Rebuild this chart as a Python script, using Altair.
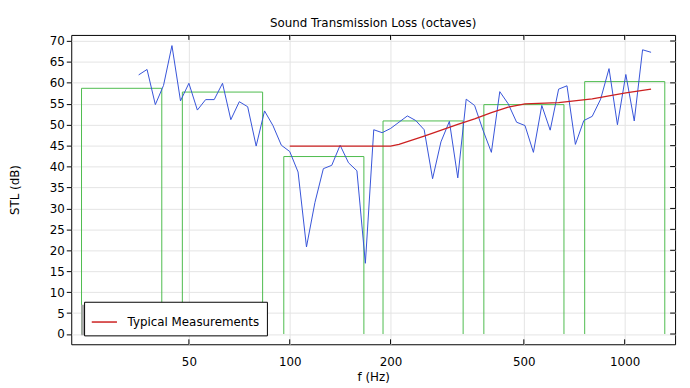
import altair as alt
import pandas as pd

FONT = "DejaVu Sans"

# 1/12-octave narrowband STL (blue)
freq = [35.4, 37.5, 39.7, 42.0, 44.5, 47.2, 50.0, 53.0, 56.1, 59.5,
        63.0, 66.7, 70.7, 74.9, 79.4, 84.1, 89.1, 94.4, 100.0, 105.9,
        112.2, 118.9, 126.0, 133.5, 141.4, 149.8, 158.7, 168.2, 178.2, 188.8,
        200.0, 211.9, 224.5, 237.8, 252.0, 267.0, 282.8, 299.7, 317.5, 336.4,
        356.4, 377.6, 400.0, 423.8, 449.0, 475.7, 504.0, 534.0, 565.7, 599.3,
        635.0, 672.7, 712.7, 755.1, 800.0, 847.6, 898.0, 951.4, 1008.0, 1068.0,
        1131.0, 1199.0]
stl = [61.9, 63.2, 54.8, 59.4, 68.9, 55.7, 59.9, 53.5, 56.0, 56.0,
       59.9, 51.2, 55.5, 54.3, 44.9, 53.3, 49.8, 45.1, 43.6, 38.7,
       20.8, 31.4, 39.5, 40.3, 45.1, 40.9, 39.0, 16.9, 48.8, 48.1,
       49.1, 50.6, 52.1, 51.0, 48.8, 37.1, 45.9, 50.8, 37.3, 56.1,
       54.6, 48.7, 43.4, 57.9, 55.0, 50.6, 49.8, 43.4, 54.6, 48.7,
       58.5, 59.3, 45.3, 51.0, 52.0, 56.1, 63.4, 50.0, 62.0, 50.9,
       67.9, 67.3]

# Typical measurements (red)
typ_freq = [100.0, 125.0, 158.7, 200.0, 211.9, 252.0, 317.5, 356.4, 400.0,
            449.0, 504.0, 635.0, 800.0, 1008.0, 1199.0]
typ_stl = [44.9, 44.9, 44.9, 44.9, 45.3, 47.3, 50.1, 51.4, 52.9,
           54.2, 55.0, 55.3, 56.2, 57.6, 58.5]

# Octave bands (green)
band_lo = [23.9, 47.8, 96.0, 189.9, 379.8, 759.6]
band_hi = [41.5, 83.0, 166.5, 329.4, 658.8, 1317.6]
band_stl = [58.7, 57.8, 42.4, 50.9, 54.8, 60.3]

x_ticks = [50, 100, 200, 500, 1000]
y_ticks = [0, 5, 10, 15, 20, 25, 30, 35, 40, 45, 50, 55, 60, 65, 70]

W, H = 611, 313

narrow = pd.DataFrame({"f": freq, "stl": stl})
typ = pd.DataFrame({"f": typ_freq, "stl": typ_stl,
                    "series": ["Typical Measurements"] * len(typ_freq)})
bands = pd.DataFrame({"f": band_lo, "hi": band_hi, "stl": band_stl})
xt = pd.DataFrame({"f": x_ticks})
yt = pd.DataFrame({"stl": y_ticks})

xscale = alt.Scale(type="log", domain=[22.27, 1414.2], nice=False)
yscale = alt.Scale(domain=[-2.45, 71.45], nice=False, zero=False)

xaxis = alt.Axis(values=x_ticks, format="d", ticks=False, tickSize=0,
                 labelPadding=12, domain=False, grid=True, gridColor="#e4e4e4",
                 labelFont=FONT, labelFontSize=12, labelColor="black",
                 titleFont=FONT, titleFontSize=12, titleFontWeight="normal",
                 titleColor="black", titleY=33, titleBaseline="middle")
yaxis = alt.Axis(values=y_ticks, tickSize=5, tickColor="black", labelPadding=2,
                 domain=False, grid=True, gridColor="#e4e4e4",
                 labelFont=FONT, labelFontSize=12, labelColor="black",
                 titleFont=FONT, titleFontSize=12, titleFontWeight="normal",
                 titleColor="black", titleX=-57, titleY=H / 2,
                 titleBaseline="middle")


def X(fld):
    return alt.X(f"{fld}:Q", scale=xscale, axis=xaxis, title="f (Hz)")


def Y(fld):
    return alt.Y(f"{fld}:Q", scale=yscale, axis=yaxis, title="STL (dB)")


GREEN = "#4cbb4c"

green_left = alt.Chart(bands).mark_rule(color=GREEN, strokeWidth=1).encode(
    x=X("f"), y=Y("stl"), y2=alt.datum(0))
green_right = alt.Chart(bands).mark_rule(color=GREEN, strokeWidth=1).encode(
    x=alt.X("hi:Q", scale=xscale, axis=xaxis, title="f (Hz)"),
    y=Y("stl"), y2=alt.datum(0))
green_top = alt.Chart(bands).mark_rule(color=GREEN, strokeWidth=1).encode(
    x=X("f"), x2="hi", y=Y("stl"))

blue = alt.Chart(narrow).mark_line(color="#3552d8", strokeWidth=1).encode(
    x=X("f"), y=Y("stl"))

red = alt.Chart(typ).mark_line(strokeWidth=1.3).encode(
    x=X("f"), y=Y("stl"),
    color=alt.Color("series:N",
                    scale=alt.Scale(domain=["Typical Measurements"], range=["#cc2020"]),
                    legend=alt.Legend(orient="none", legendX=13, legendY=270,
                                      title=None, strokeColor="black",
                                      fillColor="white", padding=7,
                                      symbolType="stroke", symbolSize=650,
                                      symbolStrokeWidth=1.5,
                                      labelFont=FONT, labelFontSize=12,
                                      labelColor="black", labelOffset=10,
                                      cornerRadius=0)))

bottom_ticks = alt.Chart(xt).mark_rule(color="black").encode(
    x=X("f"), y=alt.value(H), y2=alt.value(H - 5))
top_ticks = alt.Chart(xt).mark_rule(color="black").encode(
    x=X("f"), y=alt.value(0), y2=alt.value(5))
right_ticks = alt.Chart(yt).mark_rule(color="black").encode(
    y=Y("stl"), x=alt.value(W), x2=alt.value(W - 5))

shadow = alt.Chart(alt.Data(values=[{}])).mark_rect(color="#a8a8a8").encode(
    x=alt.value(10), x2=alt.value(193), y=alt.value(273), y2=alt.value(304))

chart = alt.layer(
    green_left, green_right, green_top, blue, red,
    bottom_ticks, top_ticks, right_ticks, shadow
).properties(
    width=W, height=H,
    title=alt.Title("Sound Transmission Loss (octaves)", font=FONT, fontSize=12,
                    fontWeight="normal", color="black", baseline="bottom",
                    offset=9, dy=16),
    autosize=alt.AutoSizeParams(type="none"),
    padding={"left": 64, "top": 25, "right": 7, "bottom": 42},
).configure_view(stroke="black", strokeWidth=1)

chart.save("out.html", embed_options={"renderer": "svg", "actions": False})
